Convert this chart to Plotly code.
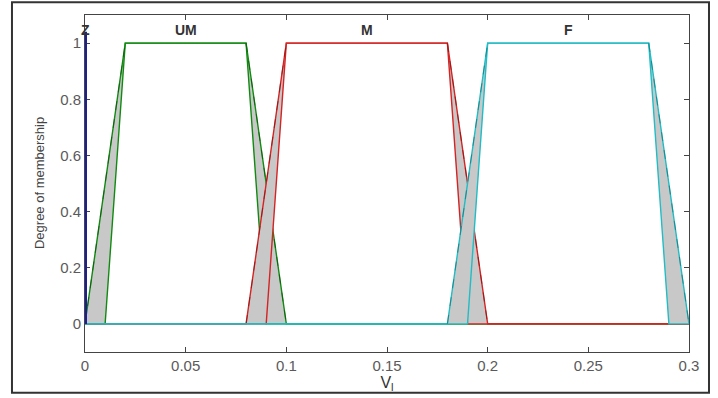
import plotly.graph_objects as go

# Membership function data (interval type-2 trapezoids)
mf_names = ["UM", "M", "F"]
upper_x = {
    "UM": [0.0, 0.02, 0.08, 0.10, 0.30],
    "M":  [0.0, 0.08, 0.10, 0.18, 0.20, 0.30],
    "F":  [0.0, 0.18, 0.20, 0.28, 0.30],
}
upper_y = {
    "UM": [0, 1, 1, 0, 0],
    "M":  [0, 0, 1, 1, 0, 0],
    "F":  [0, 0, 1, 1, 0],
}
lower_x = {
    "UM": [0.0, 0.01, 0.02, 0.08, 0.09, 0.30],
    "M":  [0.0, 0.09, 0.10, 0.18, 0.19, 0.30],
    "F":  [0.0, 0.19, 0.20, 0.28, 0.29, 0.30],
}
lower_y = {
    "UM": [0, 0, 1, 1, 0, 0],
    "M":  [0, 0, 1, 1, 0, 0],
    "F":  [0, 0, 1, 1, 0, 0],
}
colors = {"UM": "#128a12", "M": "#d42424", "F": "#22bcc4"}
dark = {"UM": "#0a4a0a", "M": "#7a1010", "F": "#106a70"}

z_x = [0.0, 0.0]
z_y = [0.0, 1.04]

label_text = ["Z", "UM", "M", "F"]
label_x = [0.0, 0.05, 0.14, 0.24]
label_y = [1.045, 1.045, 1.045, 1.045]

x_ticks = [0, 0.05, 0.1, 0.15, 0.2, 0.25, 0.3]
x_tick_text = ["0", "0.05", "0.1", "0.15", "0.2", "0.25", "0.3"]
y_ticks = [0, 0.2, 0.4, 0.6, 0.8, 1]
y_tick_text = ["0", "0.2", "0.4", "0.6", "0.8", "1"]

fig = go.Figure()

for n in mf_names:
    # FOU fill
    fx = upper_x[n] + lower_x[n][::-1]
    fy = upper_y[n] + lower_y[n][::-1]
    fig.add_trace(go.Scatter(x=fx, y=fy, mode="lines", fill="toself",
                             fillcolor="#c8c8c8", line=dict(width=0),
                             showlegend=False, hoverinfo="skip"))
    fig.add_trace(go.Scatter(x=lower_x[n], y=lower_y[n], mode="lines",
                             line=dict(color=colors[n], width=1.4), showlegend=False))
    fig.add_trace(go.Scatter(x=upper_x[n], y=upper_y[n], mode="lines",
                             line=dict(color=colors[n], width=1.4), showlegend=False))
    # dashed dark overlay on sloped parts of upper MF
    ux, uy = upper_x[n], upper_y[n]
    for i in range(len(ux) - 1):
        if uy[i] != uy[i + 1]:
            fig.add_trace(go.Scatter(x=[ux[i], ux[i + 1]], y=[uy[i], uy[i + 1]],
                                     mode="lines",
                                     line=dict(color=dark[n], width=1, dash="dash"),
                                     opacity=0.6, showlegend=False))

# Z membership (vertical spike at 0), drawn on top
fig.add_trace(go.Scatter(x=z_x, y=z_y, mode="lines",
                         line=dict(color="#1c1c9c", width=4), showlegend=False))

for t, x, y in zip(label_text, label_x, label_y):
    fig.add_annotation(x=x, y=y, text="<b>" + t + "</b>", showarrow=False,
                       font=dict(family="Liberation Sans, Arial, sans-serif", size=14, color="#333333"))

fig.add_annotation(xref="paper", yref="paper", x=-0.091, y=0.5,
                   text="Degree of membership", textangle=-90, showarrow=False,
                   font=dict(family="Liberation Sans Narrow, Arial Narrow, Liberation Sans, sans-serif",
                             size=13, color="#444444"))

# outer border
fig.add_shape(type="rect", xref="paper", yref="paper",
              x0=-0.1209, x1=1.0331, y0=-0.1206, y1=1.038,
              line=dict(color="#333333", width=2))

axis_common = dict(showgrid=False, zeroline=False, showline=True, mirror="ticks",
                   linecolor="#444444", linewidth=1, ticks="inside", ticklen=5,
                   tickcolor="#444444", layer="below traces",
                   tickfont=dict(family="Liberation Sans, Arial, sans-serif", size=15, color="#5a5a5a"))

fig.update_xaxes(range=[0, 0.3], tickvals=x_ticks, ticktext=x_tick_text,
                 title=dict(text="V<sub>l</sub>", standoff=1,
                            font=dict(family="Liberation Sans, Arial, sans-serif", size=16, color="#333333")),
                 **axis_common)
fig.update_yaxes(range=[-0.1, 1.1], tickvals=y_ticks, ticktext=y_tick_text, **axis_common)

fig.update_layout(width=718, height=398, margin=dict(l=85, r=29, t=15, b=43),
                  plot_bgcolor="white", paper_bgcolor="white", showlegend=False)

fig.write_html("out.html")
